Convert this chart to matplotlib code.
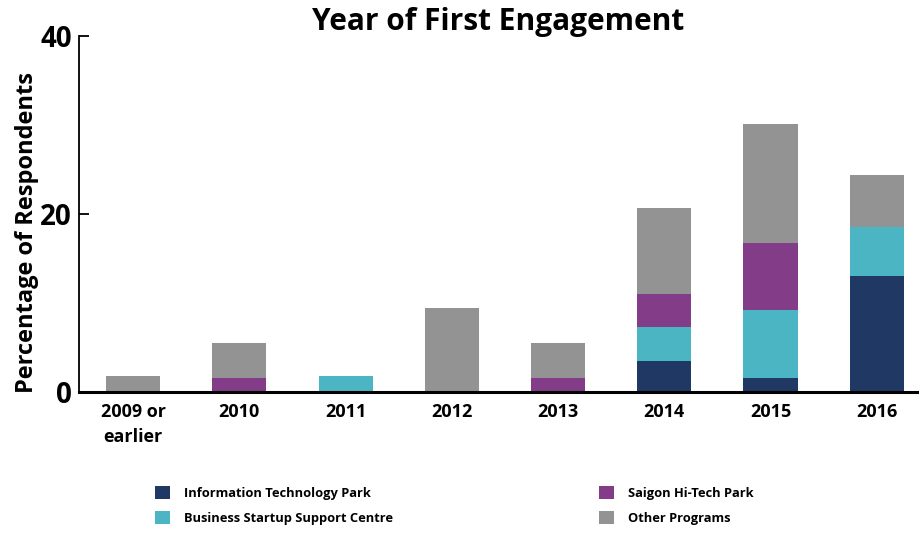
import matplotlib
matplotlib.use("Agg")
import matplotlib.pyplot as plt
from matplotlib.patches import Patch
import numpy as np

plt.rcParams['font.family'] = ['Open Sans', 'DejaVu Sans']

categories = ["2009 or\nearlier", "2010", "2011", "2012", "2013", "2014", "2015", "2016"]
series_names = ["Information Technology Park", "Business Startup Support Centre",
                "Saigon Hi-Tech Park", "Other Programs"]
itp    = [0.0, 0.0, 0.0, 0.0, 0.0, 3.5, 1.6, 13.0]
bssc   = [0.0, 0.0, 1.8, 0.0, 0.0, 3.8, 7.6, 5.5]
saigon = [0.0, 1.6, 0.0, 0.0, 1.6, 3.7, 7.5, 0.0]
other  = [1.8, 3.9, 0.0, 9.4, 3.9, 9.7, 13.4, 5.9]
colors = ["#203864", "#4BB5C3", "#833C87", "#939393"]
y_ticks = [0, 20, 40]

fig = plt.figure(figsize=(9.19, 5.33), dpi=100)
ax = fig.add_axes([79/919, 141/533, 838/919, 356/533])

x = np.arange(len(categories))
bottom = np.zeros(len(categories))
for vals, col in zip([itp, bssc, saigon, other], colors):
    ax.bar(x, vals, width=0.51, bottom=bottom, color=col, linewidth=0)
    bottom += np.array(vals)

ax.set_xlim(-0.51, 7.38)
ax.set_ylim(0, 40)
ax.set_yticks(y_ticks)
ax.set_yticklabels([str(t) for t in y_ticks], fontsize=20, fontweight='bold')
ax.set_xticks(x)
ax.set_xticklabels(categories, fontsize=13, fontweight='bold', linespacing=1.5)
ax.tick_params(axis='y', direction='in', length=7, width=1.3, pad=5)
ax.tick_params(axis='x', length=0, pad=8)

for s in ['top', 'right']:
    ax.spines[s].set_visible(False)
ax.spines['left'].set_linewidth(1.3)
ax.spines['bottom'].set_linewidth(2.2)

fig.text(27/919, 1 - 232/533, "Percentage of Respondents", rotation=90,
         ha='center', va='center', fontsize=17, fontweight='bold')
fig.text(498/919, 1 - 22/533, "Year of First Engagement", ha='center', va='center',
         fontsize=21.5, fontweight='bold')

handles = [Patch(facecolor=c, edgecolor='none') for c in colors]
legend_kw = dict(frameon=False, handlelength=1.15, handleheight=1.15,
                 handletextpad=1.1, labelspacing=0.9, borderpad=0, borderaxespad=0,
                 prop={'weight': 'bold', 'size': 9.3})
leg1 = fig.legend(handles[:2], series_names[:2], loc='upper left',
                  bbox_to_anchor=(155/919, 1 - 486/533), **legend_kw)
leg2 = fig.legend(handles[2:], series_names[2:], loc='upper left',
                  bbox_to_anchor=(599/919, 1 - 486/533), **legend_kw)

fig.savefig("out.png", dpi=100)
